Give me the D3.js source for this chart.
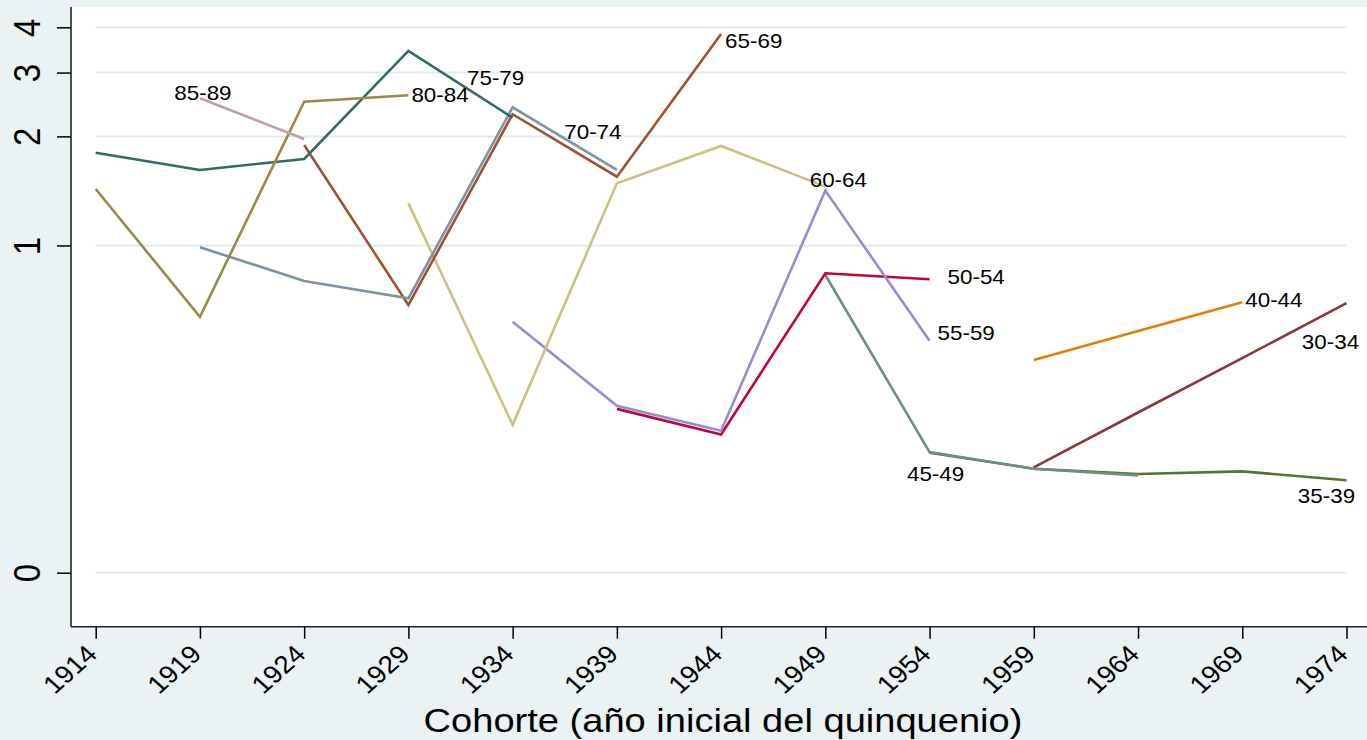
<!DOCTYPE html>
<html>
<head>
<meta charset="UTF-8">
<title>Cohortes</title>
<style>
  body { margin: 0; background: #eaf2f3; }
  svg { display: block; }
  text { font-family: "Liberation Sans", Arial, sans-serif; fill: #000; }
</style>
</head>
<body>
<script src="https://cdnjs.cloudflare.com/ajax/libs/d3/7.8.5/d3.min.js"></script>
<script>
// x categories: first year of each five-year cohort
var cohorts = [1914, 1919, 1924, 1929, 1934, 1939, 1944, 1949, 1954, 1959, 1964, 1969, 1974];

// one line per age group; each starts at startYear and steps 5 years
var groups = ["30-34", "35-39", "40-44", "45-49", "50-54", "55-59",
              "60-64", "65-69", "70-74", "75-79", "80-84", "85-89"];
var startYear = [1959, 1954, 1959, 1949, 1939, 1934, 1929, 1924, 1919, 1914, 1914, 1919];
var values = [
  [0.244, 0.346, 0.489, 0.693],          // 30-34
  [0.268, 0.242, 0.234, 0.238, 0.225],   // 35-39
  [0.483, 0.581, 0.697],                 // 40-44
  [0.829, 0.269, 0.242, 0.232],          // 45-49
  [0.354, 0.301, 0.838, 0.807],          // 50-54
  [0.616, 0.361, 0.308, 1.417, 0.546],   // 55-59
  [1.307, 0.320, 1.485, 1.882, 1.453],   // 60-64
  [1.894, 0.685, 2.302, 1.548, 3.834],   // 65-69
  [0.989, 0.798, 0.715, 2.406, 1.616],   // 70-74
  [1.803, 1.616, 1.733, 3.442, 2.253],   // 75-79
  [1.432, 0.635, 2.493, 2.597],          // 80-84
  [2.548, 1.967]                         // 85-89
];

// y axis ticks (log scale; the bottom tick is labelled "0")
var yTickValues = [0.125, 1, 2, 3, 4];
var yTickLabels = ["0", "1", "2", "3", "4"];

// styling
var colors = ["#90353b", "#55752f", "#e37e00", "#6e8e84", "#c10534", "#938dd2",
              "#cac27e", "#a0522d", "#7b92a8", "#2d6d66", "#9c8847", "#bfa19c"];
// where each group label sits: point index on the line, offset, anchor
var labelAt = [
  {i: -1, dx: -16, dy: 39, a: "middle"},
  {i: -1, dx: -20, dy: 16, a: "middle"},
  {i: -1, dx: 3, dy: -2, a: "start"},
  {i: 1, dx: 6, dy: 22, a: "middle"},
  {i: -1, dx: 18, dy: -2, a: "start"},
  {i: -1, dx: 8, dy: -8, a: "start"},
  {i: -1, dx: 13, dy: -7, a: "middle"},
  {i: -1, dx: 4, dy: 7, a: "start"},
  {i: -1, dx: -24, dy: -38, a: "middle"},
  {i: -1, dx: -17, dy: -40, a: "middle"},
  {i: -1, dx: 3, dy: 0, a: "start"},
  {i: 0, dx: 3, dy: -5, a: "middle"}
];
var sx = 1.12; // text is a bit wider than tall in the original

var W = 1367, H = 740;
var plot = {left: 71, top: 7, right: 1367, bottom: 626.7};

var x = d3.scaleLinear().domain([1914, 1974]).range([95.7, 1346.5]);
var y = d3.scaleLog().domain([0.125, 4]).range([572.7, 27.3]);

var svg = d3.select("body").append("svg")
  .attr("width", W)
  .attr("height", H);

svg.append("rect")
  .attr("width", W).attr("height", H)
  .attr("fill", "#eaf2f3");

svg.append("rect")
  .attr("x", plot.left).attr("y", plot.top)
  .attr("width", plot.right - plot.left)
  .attr("height", plot.bottom - plot.top)
  .attr("fill", "#fff");

// horizontal grid
svg.append("g").selectAll("line")
  .data(yTickValues)
  .enter().append("line")
    .attr("x1", x(cohorts[0]))
    .attr("x2", x(cohorts[cohorts.length - 1]))
    .attr("y1", function(d) { return y(d); })
    .attr("y2", function(d) { return y(d); })
    .attr("stroke", "#e1ebee")
    .attr("stroke-width", 2);

// lines
var line = d3.line()
  .x(function(d) { return x(d.year); })
  .y(function(d) { return y(d.v); });

var series = groups.map(function(g, k) {
  return {
    name: g,
    pts: values[k].map(function(v, j) { return {year: startYear[k] + 5 * j, v: v}; })
  };
});

svg.append("g").selectAll("path")
  .data(series)
  .enter().append("path")
    .attr("d", function(d) { return line(d.pts); })
    .attr("fill", "none")
    .attr("stroke", function(d, k) { return colors[k]; })
    .attr("stroke-width", 2.6);

// group labels
svg.append("g").selectAll("text")
  .data(series)
  .enter().append("text")
    .attr("text-anchor", function(d, k) { return labelAt[k].a; })
    .attr("dy", "0.35em")
    .style("font-size", "20px")
    .attr("transform", function(d, k) {
      var L = labelAt[k];
      var p = L.i < 0 ? d.pts[d.pts.length - 1] : d.pts[L.i];
      return "translate(" + (x(p.year) + L.dx) + "," + (y(p.v) + L.dy) + ") scale(" + sx + ",1)";
    })
    .text(function(d) { return d.name; });

// y axis
var gy = svg.append("g")
  .attr("transform", "translate(" + plot.left + ",0)")
  .call(d3.axisLeft(y)
    .tickValues(yTickValues)
    .tickFormat(function(d, i) { return yTickLabels[i]; })
    .tickSize(14)
    .tickSizeOuter(0));
gy.select(".domain").remove();
gy.selectAll(".tick line").attr("stroke", "#000").attr("stroke-width", 1.5);
gy.selectAll(".tick text")
  .attr("x", null).attr("dy", null)
  .attr("text-anchor", "middle")
  .style("font-size", "33px")
  .attr("transform", "translate(-31,0) scale(" + sx + ",1) rotate(-90)");

// x axis
var gx = svg.append("g")
  .attr("transform", "translate(0," + plot.bottom + ")")
  .call(d3.axisBottom(x)
    .tickValues(cohorts)
    .tickFormat(d3.format("d"))
    .tickSize(12)
    .tickSizeOuter(0));
gx.select(".domain").remove();
gx.selectAll(".tick line").attr("stroke", "#000").attr("stroke-width", 1.5);
gx.selectAll(".tick text")
  .attr("y", null).attr("dy", null)
  .attr("text-anchor", "end")
  .style("font-size", "25px")
  .attr("transform", "translate(2.5,29) scale(" + sx + ",1) rotate(-45)");

// axis lines
svg.append("line")
  .attr("x1", plot.left).attr("x2", plot.left)
  .attr("y1", plot.top).attr("y2", plot.bottom)
  .attr("stroke", "#222").attr("stroke-width", 1.6);
svg.append("line")
  .attr("x1", plot.left).attr("x2", plot.right)
  .attr("y1", plot.bottom).attr("y2", plot.bottom)
  .attr("stroke", "#222").attr("stroke-width", 1.6);

// x title
svg.append("text")
  .attr("text-anchor", "middle")
  .style("font-size", "34px")
  .attr("transform", "translate(723,731.7) scale(" + sx + ",1)")
  .text("Cohorte (año inicial del quinquenio)");
</script>
</body>
</html>
